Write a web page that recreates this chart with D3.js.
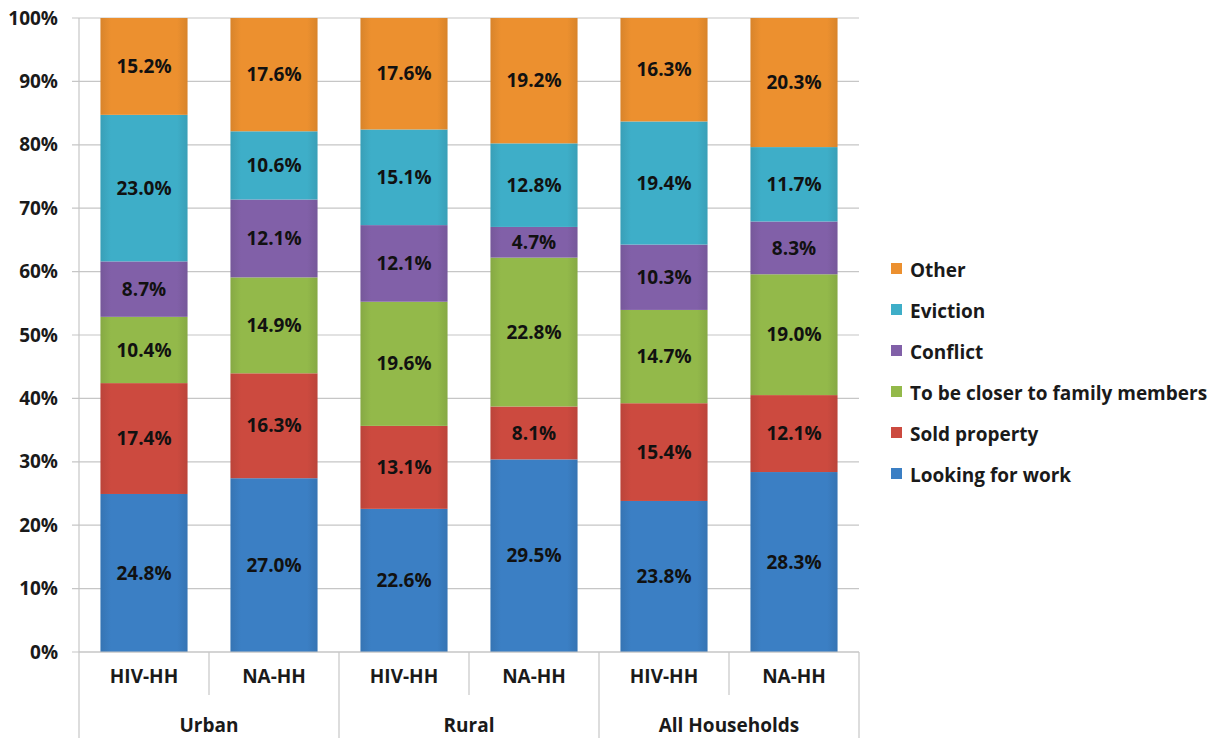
<!DOCTYPE html>
<html>
<head>
<meta charset="utf-8">
<script src="https://cdn.jsdelivr.net/npm/d3@7"></script>
<style>
  body { margin: 0; background: #fff; }
  svg { display: block; font-family: "Open Sans", Lato, sans-serif; font-weight: bold; }
</style>
</head>
<body>
<div id="chart"></div>
<script>
// Reasons for moving, by household type (100% stacked)
const groups = ['Urban', 'Rural', 'All Households'];
const subgroups = ['HIV-HH', 'NA-HH'];
const seriesNames = ['Looking for work', 'Sold property', 'To be closer to family members', 'Conflict', 'Eviction', 'Other'];
const seriesColors = ['#3b7fc4', '#cc4a3f', '#93b94a', '#8160a8', '#3eaec8', '#ec902f'];

// one array per series, in bar order: Urban HIV, Urban NA, Rural HIV, Rural NA, All HIV, All NA
const lookingForWork = [24.8, 27.0, 22.6, 29.5, 23.8, 28.3];
const soldProperty = [17.4, 16.3, 13.1, 8.1, 15.4, 12.1];
const closerToFamily = [10.4, 14.9, 19.6, 22.8, 14.7, 19.0];
const conflict = [8.7, 12.1, 12.1, 4.7, 10.3, 8.3];
const eviction = [23.0, 10.6, 15.1, 12.8, 19.4, 11.7];
const other = [15.2, 17.6, 17.6, 19.2, 16.3, 20.3];
const yTicks = [0, 0.1, 0.2, 0.3, 0.4, 0.5, 0.6, 0.7, 0.8, 0.9, 1];

const seriesValues = [lookingForWork, soldProperty, closerToFamily, conflict, eviction, other];

// build rows for d3.stack
const bars = [];
groups.forEach((g, gi) => {
  subgroups.forEach((s, si) => {
    const idx = gi * subgroups.length + si;
    const row = { key: g + '|' + s, group: g, sub: s };
    seriesNames.forEach((name, k) => { row[name] = seriesValues[k][idx]; });
    bars.push(row);
  });
});

const W = 1222, H = 738;
const margin = { top: 18, right: 363, bottom: 86, left: 79 };
const width = W - margin.left - margin.right;
const height = H - margin.top - margin.bottom;

const svg = d3.select('#chart').append('svg')
  .attr('width', W)
  .attr('height', H);

const g = svg.append('g').attr('transform', `translate(${margin.left},${margin.top})`);

const x = d3.scaleBand()
  .domain(bars.map(d => d.key))
  .range([0, width])
  .paddingInner(0.33)
  .paddingOuter(0.165);

const y = d3.scaleLinear().domain([0, 1]).range([height, 0]);

const stack = d3.stack().keys(seriesNames).offset(d3.stackOffsetExpand);
const stacked = stack(bars);

// gridlines + tick marks
g.append('g')
  .selectAll('line')
  .data(yTicks)
  .enter()
  .append('line')
  .attr('x1', -7)
  .attr('x2', width)
  .attr('y1', d => y(d))
  .attr('y2', d => y(d))
  .attr('stroke', '#c6c6c6')
  .attr('stroke-width', 1.2);

// y axis labels
g.append('g')
  .selectAll('text')
  .data(yTicks)
  .enter()
  .append('text')
  .attr('x', -21)
  .attr('y', d => y(d))
  .attr('dy', '0.35em')
  .attr('text-anchor', 'end')
  .attr('fill', '#1a1a1a')
  .style('font-size', '19px')
  .text(d => d3.format('.0%')(d));

// subtle side shading on the bars
const defs = svg.append('defs');
seriesColors.forEach((c, i) => {
  const grad = defs.append('linearGradient')
    .attr('id', 'grad' + i)
    .attr('x1', '0%').attr('x2', '100%')
    .attr('y1', '0%').attr('y2', '0%');
  const dark = d3.color(c).darker(0.25);
  grad.append('stop').attr('offset', '0%').attr('stop-color', dark);
  grad.append('stop').attr('offset', '12%').attr('stop-color', c);
  grad.append('stop').attr('offset', '88%').attr('stop-color', c);
  grad.append('stop').attr('offset', '100%').attr('stop-color', dark);
});

// bars
const layer = g.selectAll('g.layer')
  .data(stacked)
  .enter()
  .append('g')
  .attr('class', 'layer')
  .attr('fill', (d, i) => `url(#grad${i})`);

layer.selectAll('rect')
  .data(d => d.map(p => ({ p, key: p.data.key })))
  .enter()
  .append('rect')
  .attr('x', d => x(d.key))
  .attr('width', x.bandwidth())
  .attr('y', d => y(d.p[1]))
  .attr('height', d => y(d.p[0]) - y(d.p[1]));

// value labels
stacked.forEach(series => {
  g.append('g')
    .selectAll('text')
    .data(series)
    .enter()
    .append('text')
    .attr('x', d => x(d.data.key) + x.bandwidth() / 2)
    .attr('y', d => (y(d[0]) + y(d[1])) / 2)
    .attr('dy', '0.35em')
    .attr('text-anchor', 'middle')
    .attr('fill', '#111')
    .style('font-size', '19px')
    .text(d => d3.format('.1f')(d.data[series.key]) + '%');
});

// category axis: sub labels, group labels, separators
const axisG = g.append('g').attr('transform', `translate(0,${height})`);
const step = x.step();
const groupW = step * subgroups.length;

axisG.append('line')
  .attr('x1', 0).attr('x2', width)
  .attr('y1', 0).attr('y2', 0)
  .attr('stroke', '#c6c6c6')
  .attr('stroke-width', 1.2);

// separators between subgroups (short)
groups.forEach((grp, gi) => {
  for (let si = 1; si < subgroups.length; si++) {
    const sx = gi * groupW + si * step;
    axisG.append('line')
      .attr('x1', sx).attr('x2', sx)
      .attr('y1', 0).attr('y2', 43)
      .attr('stroke', '#c6c6c6')
      .attr('stroke-width', 1.2);
  }
});
// separators between groups (long)
d3.range(groups.length + 1).forEach(i => {
  const sx = i * groupW;
  axisG.append('line')
    .attr('x1', sx).attr('x2', sx)
    .attr('y1', i === 0 ? -height : 0).attr('y2', margin.bottom)
    .attr('stroke', '#c6c6c6')
    .attr('stroke-width', 1.2);
});

axisG.selectAll('text.sub')
  .data(bars)
  .enter()
  .append('text')
  .attr('class', 'sub')
  .attr('x', d => x(d.key) + x.bandwidth() / 2)
  .attr('y', 31)
  .attr('text-anchor', 'middle')
  .attr('fill', '#1a1a1a')
  .style('font-size', '19px')
  .text(d => d.sub);

axisG.selectAll('text.grp')
  .data(groups)
  .enter()
  .append('text')
  .attr('class', 'grp')
  .attr('x', (d, i) => i * groupW + groupW / 2)
  .attr('y', 80)
  .attr('text-anchor', 'middle')
  .attr('fill', '#1a1a1a')
  .style('font-size', '19px')
  .text(d => d);

// legend (reverse order, top = Other)
const legend = svg.append('g').attr('transform', 'translate(891,270)');
const legendItems = seriesNames.map((n, i) => ({ name: n, color: seriesColors[i] })).reverse();
const li = legend.selectAll('g')
  .data(legendItems)
  .enter()
  .append('g')
  .attr('transform', (d, i) => `translate(0,${i * 41})`);
li.append('rect')
  .attr('x', 0).attr('y', -7)
  .attr('width', 11).attr('height', 11)
  .attr('fill', d => d.color);
li.append('text')
  .attr('x', 19)
  .attr('y', 0)
  .attr('dy', '0.35em')
  .attr('fill', '#1a1a1a')
  .style('font-size', '19px')
  .text(d => d.name);
</script>
</body>
</html>
